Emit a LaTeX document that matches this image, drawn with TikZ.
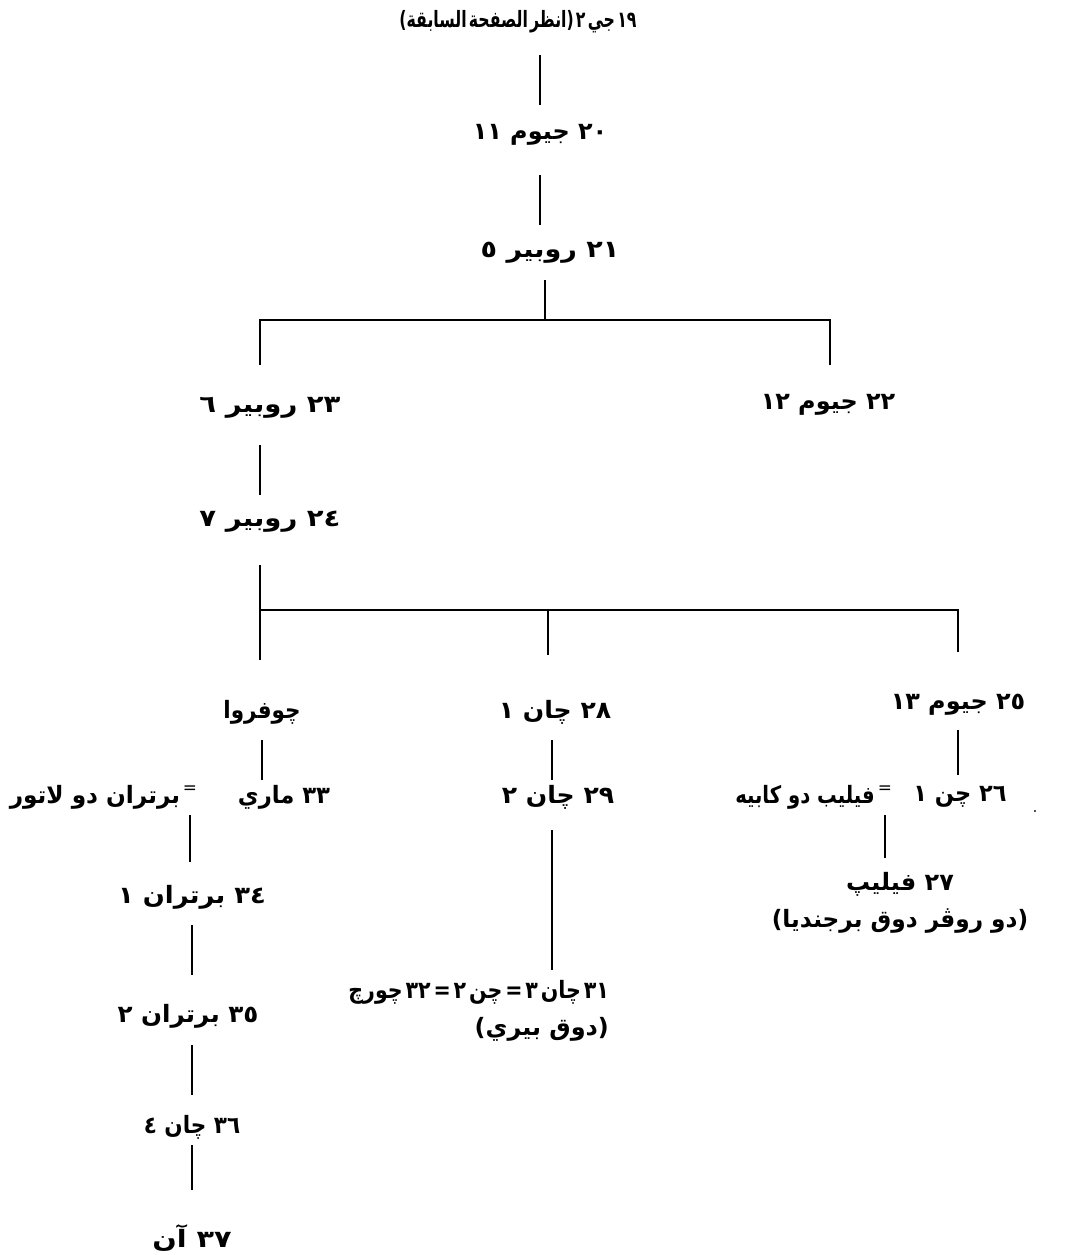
\documentclass[tikz,border=0pt]{standalone}
\usepackage{graphicx}
\usepackage{fontspec}
\newfontfamily\arabicfont[Script=Arabic]{DejaVu Sans}
\TeXXeTstate=1
% one line of right-to-left text, optionally squeezed or widened
\newcommand{\artxt}[2][1]{\scalebox{#1}[1]{\arabicfont\bfseries\beginR #2\endR}}
% a narrow word space
\newcommand{\nsp}{\hspace{0.14em}}

\begin{document}
\begin{tikzpicture}[x=0.025cm, y=-0.025cm,
  person/.style={font=\fontsize{17}{26}\selectfont, inner sep=2pt},
  tree/.style={line width=2pt},
  gapa/.style={shorten <=#1*0.025cm},
  gapb/.style={shorten >=#1*0.025cm}]

\useasboundingbox (0,0) rectangle (1071,1255);

% columns and bars of the tree
\coordinate (colA) at (260,0);
\coordinate (colB) at (830,0);
\coordinate (colC) at (958,0);
\coordinate (colD) at (552,0);
\coordinate (colE) at (192,0);
\coordinate (bar1) at (545,320);
\coordinate (bar2) at (548,610);

% people, top down
\node[person, font=\fontsize{16}{24}\selectfont] (n19) at (518,22)
  {\artxt[0.7]{١٩\nsp جي\nsp ٢\nsp (انظر\nsp الصفحة\nsp السابقة)}};
\node[person] (n20) at (540,135) {\artxt{٢٠ جيوم ١١}};
\node[person] (n21) at (550,253) {\artxt[1.13]{٢١ روبير ٥}};
\node[person] (n23) at (270,408) {\artxt[1.15]{٢٣ روبير ٦}};
\node[person] (n22) at (828,405) {\artxt{٢٢ جيوم ١٢}};
\node[person] (n24) at (270,522) {\artxt[1.15]{٢٤ روبير ٧}};
\node[person] (geof) at (262,712) {\artxt[0.9]{چوفروا}};
\node[person] (n28) at (555,712) {\artxt[1.05]{٢٨ چان ١}};
\node[person] (n25) at (958,705) {\artxt{٢٥ جيوم ١٣}};

% marriages
\node[person] (n33)    at (284,797) {\artxt[0.95]{٣٣ ماري}};
\node[person, font=\fontsize{12}{14}\selectfont] (eqA) at (190,790) {\arabicfont =};
\node[person] (latour) at (95,797)  {\artxt[0.97]{برتران دو لاتور}};
\node[person] (n29)    at (558,797) {\artxt[1.05]{٢٩ چان ٢}};
\node[person] (n26)    at (960,797) {\artxt[0.94]{٢٦ چن ١}};
\node[person, font=\fontsize{12}{14}\selectfont] (eqB) at (885,790) {\arabicfont =};
\node[person] (capet)  at (805,797) {\artxt[0.82]{فيليب دو كابيه}};
\node[person] (dot)    at (1035,812) {.};

\node[person, align=center] (n27) at (900,903)
  {\artxt{٢٧ فيليپ}\\ \artxt[0.97]{(دو روڤر دوق برجنديا)}};
\node[person, align=right, anchor=east] (n31) at (612,1011)
  {\artxt[0.86]{٣١\nsp چان\nsp ٣\nsp =\nsp چن\nsp ٢\nsp =\nsp ٣٢\nsp چورچ}\\ \artxt{(دوق بيري)}};

\node[person] (n34) at (192,897)  {\artxt[1.08]{٣٤ برتران ١}};
\node[person] (n35) at (188,1016) {\artxt[1.03]{٣٥ برتران ٢}};
\node[person] (n36) at (192,1127) {\artxt[0.9]{٣٦ چان ٤}};
\node[person] (n37) at (192,1238) {\artxt[1.2]{٣٧ آن}};

% connectors (gaps in picture pixels)
\draw[tree, gapa=33, gapb=30] (n20.center |- n19.center) -- (n20.center);
\draw[tree, gapa=40, gapb=28] (n20.center) -- (n20.center |- n21.center);
\draw[tree, gapa=27] (bar1 |- n21.center) -- (bar1);
\draw[tree, gapa=43, gapb=40] (colA |- n23.center) -- (colA |- bar1) -- (colB |- bar1) -- (colB |- n22.center);
\draw[tree, gapa=37, gapb=27] (colA |- n23.center) -- (colA |- n24.center);
\draw[tree, gapa=43, gapb=52] (colA |- n24.center) -- (colA |- geof.center);
\draw[tree, gapb=53] (colA |- bar2) -- (colC |- bar2) -- (colC |- n25.center);
\draw[tree, gapb=57] (bar2) -- (bar2 |- n28.center);
\draw[tree, gapa=28, gapb=17] (geof.center) -- (geof.center |- n33.center);
\draw[tree, gapa=28, gapb=17] (colD |- n28.center) -- (colD |- n29.center);
\draw[tree, gapa=25, gapb=22] (colC |- n25.center) -- (colC |- n26.center);
\draw[tree, gapa=25, gapb=35] (eqA.center) -- (eqA.center |- n34.center);
\draw[tree, gapa=25, gapb=45] (eqB.center) -- (eqB.center |- n27.center);
\draw[tree, gapa=33, gapb=41] (colD |- n29.center) -- (colD |- n31.center);
\draw[tree, gapa=28, gapb=41] (colE |- n34.center) -- (colE |- n35.center);
\draw[tree, gapa=29, gapb=32] (colE |- n35.center) -- (colE |- n36.center);
\draw[tree, gapa=18, gapb=48] (colE |- n36.center) -- (colE |- n37.center);

\end{tikzpicture}
\end{document}
